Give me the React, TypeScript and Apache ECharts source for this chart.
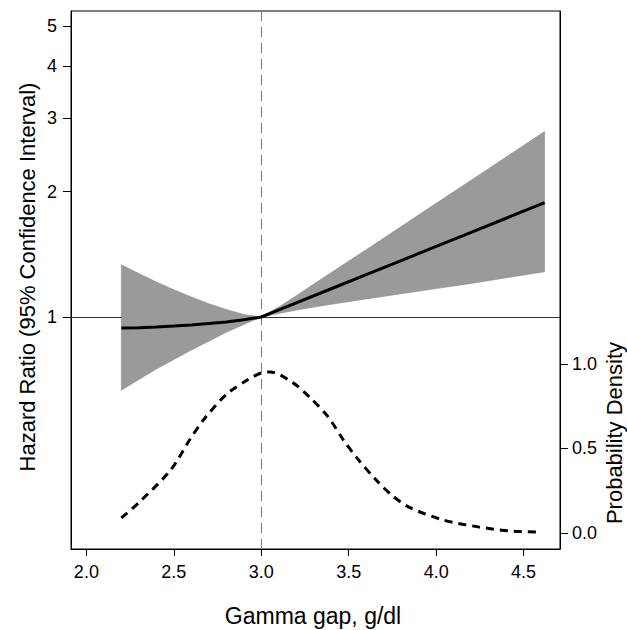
import React, { useEffect, useRef } from "react";
import * as echarts from "echarts";

// Gamma gap (g/dl) grid for the hazard-ratio spline
const gammaGap = [2.2, 2.3, 2.4, 2.5, 2.6, 2.7, 2.8, 2.9, 3.0, 3.1, 3.2, 3.4, 3.6, 3.8, 4.0, 4.2, 4.4, 4.62];
const hrEstimate = [0.941, 0.943, 0.946, 0.951, 0.957, 0.965, 0.973, 0.985, 1.0, 1.04, 1.081, 1.169, 1.264, 1.366, 1.477, 1.597, 1.726, 1.881];
const hrLower = [0.667, 0.708, 0.75, 0.791, 0.833, 0.875, 0.919, 0.96, 1.0, 1.02, 1.039, 1.073, 1.105, 1.137, 1.17, 1.204, 1.242, 1.284];
const hrUpper = [1.334, 1.271, 1.214, 1.162, 1.117, 1.076, 1.042, 1.014, 1.0, 1.057, 1.125, 1.278, 1.451, 1.649, 1.874, 2.13, 2.421, 2.787];

// Probability density of gamma gap
const densityX = [2.2, 2.3, 2.48, 2.59, 2.67, 2.8, 2.92, 3.0, 3.05, 3.18, 3.28, 3.38, 3.47, 3.55, 3.66, 3.75, 3.85, 4.04, 4.24, 4.42, 4.58];
const densityY = [0.089, 0.18, 0.37, 0.55, 0.67, 0.82, 0.905, 0.947, 0.953, 0.89, 0.8, 0.69, 0.55, 0.44, 0.31, 0.22, 0.15, 0.077, 0.036, 0.012, 0.006];

// Tick labels
const xTicks = [2.0, 2.5, 3.0, 3.5, 4.0, 4.5];
const hrTicks = [1, 2, 3, 4, 5];
const densityTicks = [0.0, 0.5, 1.0];
const referenceGap = 3.0;

const FONT = '"Liberation Sans", Arial, sans-serif';

export default function App() {
  const ref = useRef<HTMLDivElement>(null);

  useEffect(() => {
    document.body.style.margin = "0";
    if (!ref.current) return;
    const chart = echarts.init(ref.current, undefined, { renderer: "svg" });
    const lnTicks = hrTicks.map((v) => Math.log(v));

    const option: any = {
      animation: false,
      grid: {
        left: 71,
        right: 67,
        top: 11,
        bottom: 81,
        show: true,
        borderColor: "#000",
        borderWidth: 1,
      },
      xAxis: {
        type: "value",
        min: 1.912,
        max: 4.708,
        axisLine: { show: true, onZero: false, lineStyle: { color: "#000", width: 1 } },
        axisTick: { show: true, customValues: xTicks, length: 7, lineStyle: { color: "#000" } },
        axisLabel: {
          customValues: xTicks,
          formatter: (v: number) => v.toFixed(1),
          margin: 14,
          fontSize: 18,
          fontFamily: FONT,
          color: "#000",
        },
        splitLine: { show: false },
      },
      yAxis: [
        {
          type: "value",
          position: "left",
          min: -1.282,
          max: 1.691,
          axisLine: { show: true, onZero: false, lineStyle: { color: "#000", width: 1 } },
          axisTick: { show: true, customValues: lnTicks, length: 8, lineStyle: { color: "#000" } },
          axisLabel: {
            customValues: lnTicks,
            formatter: (v: number) => String(Math.round(Math.exp(v))),
            margin: 14,
            fontSize: 18,
            fontFamily: FONT,
            color: "#000",
          },
          splitLine: { show: false },
        },
        {
          type: "value",
          position: "right",
          min: -0.095,
          max: 3.09,
          axisLine: { show: true, onZero: false, lineStyle: { color: "#000", width: 1 } },
          axisTick: { show: true, customValues: densityTicks, length: 8, lineStyle: { color: "#000" } },
          axisLabel: {
            customValues: densityTicks,
            formatter: (v: number) => v.toFixed(1),
            margin: 12,
            fontSize: 18,
            fontFamily: FONT,
            color: "#000",
          },
          splitLine: { show: false },
        },
      ],
      series: [
        {
          type: "line",
          name: "ref",
          data: [],
          xAxisIndex: 0,
          yAxisIndex: 0,
          z: 1,
          markLine: {
            silent: true,
            z: 1,
            symbol: ["none", "none"],
            label: { show: false },
            data: [
              { xAxis: referenceGap, lineStyle: { color: "#7f7f7f", type: [10, 6], width: 1 } },
              { yAxis: 0, lineStyle: { color: "#333", type: "solid", width: 1 } },
            ],
          },
        },
        {
          type: "custom",
          name: "CI",
          xAxisIndex: 0,
          yAxisIndex: 0,
          z: 2,
          silent: true,
          data: gammaGap.map((x, i) => [x, Math.log(hrLower[i]), Math.log(hrUpper[i])]),
          encode: { x: 0, y: [1, 2] },
          renderItem: (params: any, api: any) => {
            if (params.dataIndex !== 0) return null;
            const up = gammaGap.map((x, i) => api.coord([x, Math.log(hrUpper[i])]));
            const lo = gammaGap.map((x, i) => api.coord([x, Math.log(hrLower[i])])).reverse();
            return {
              type: "polygon",
              shape: { points: [...up, ...lo] },
              style: { fill: "#9a9a9a", stroke: "#8a8a8a", lineWidth: 0.6 },
            };
          },
        },
        {
          type: "line",
          name: "HR",
          xAxisIndex: 0,
          yAxisIndex: 0,
          z: 3,
          symbol: "none",
          data: gammaGap.map((x, i) => [x, Math.log(hrEstimate[i])]),
          lineStyle: { color: "#000", width: 3 },
        },
        {
          type: "line",
          name: "Density",
          xAxisIndex: 0,
          yAxisIndex: 1,
          z: 3,
          symbol: "none",
          smooth: 0.3,
          data: densityX.map((x, i) => [x, densityY[i]]),
          lineStyle: { color: "#000", width: 3, type: [8, 6] },
        },
      ],
      graphic: [
        {
          type: "text",
          x: 313,
          y: 616,
          style: {
            text: "Gamma gap, g/dl",
            align: "center",
            verticalAlign: "middle",
            fontSize: 23,
            fontFamily: FONT,
            fill: "#000",
          },
        },
        {
          type: "text",
          x: 27,
          y: 277,
          rotation: Math.PI / 2,
          style: {
            text: "Hazard Ratio (95% Confidence Interval)",
            align: "center",
            verticalAlign: "middle",
            fontSize: 22,
            fontFamily: FONT,
            fill: "#000",
          },
        },
        {
          type: "text",
          x: 614,
          y: 433,
          rotation: Math.PI / 2,
          style: {
            text: "Probability Density",
            align: "center",
            verticalAlign: "middle",
            fontSize: 22,
            fontFamily: FONT,
            fill: "#000",
          },
        },
      ],
    };

    chart.setOption(option);
    return () => chart.dispose();
  }, []);

  return <div ref={ref} style={{ width: 627, height: 630 }} />;
}
